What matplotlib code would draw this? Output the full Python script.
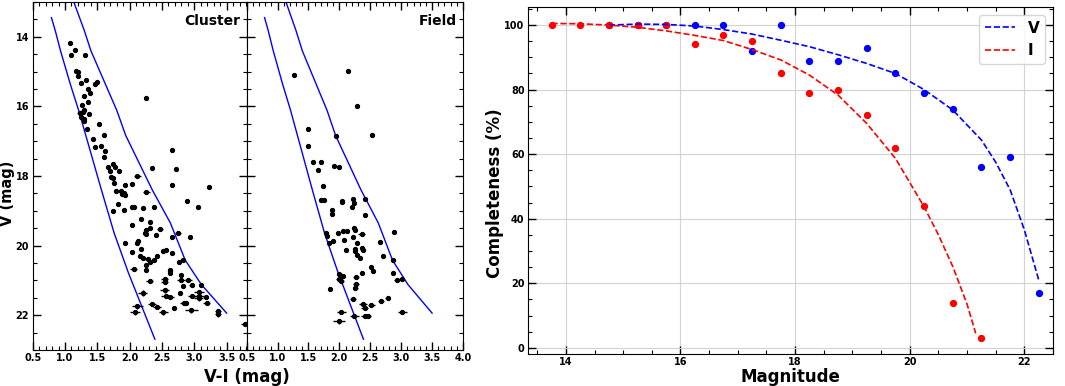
import numpy as np
import matplotlib
matplotlib.use("Agg")
import matplotlib.pyplot as plt
from matplotlib.ticker import MultipleLocator

plt.rcParams['font.family'] = ['DejaVu Sans']
plt.rcParams['font.weight'] = 'bold'

# ---------------- CMD data ----------------
cluster_vi = [1.08, 1.15, 1.09, 1.31, 1.17, 1.20, 1.20, 1.25, 1.32, 1.47, 1.50, 1.36, 1.39, 1.30,
              1.36, 1.27, 1.29, 1.28, 1.23, 1.25, 1.30, 1.30, 1.37, 1.34, 1.52, 1.61, 1.44, 1.46,
              1.56, 1.62, 1.61, 2.25, 2.65, 2.34, 2.71, 1.66, 1.75, 1.77, 1.70, 1.83, 1.71, 1.75,
              1.76, 2.12, 1.93, 2.03, 2.65, 3.22,
              1.79, 1.86, 1.91, 1.88, 1.93, 2.26, 1.82, 2.03, 2.07, 2.21, 2.37, 2.89, 3.05, 1.75,
              1.91, 2.17, 2.31, 2.04, 2.31, 2.25, 2.24, 2.26, 2.40, 2.47, 2.75, 2.65, 2.94, 1.93,
              2.13, 2.12, 2.17, 2.03, 2.16, 2.21, 2.28, 2.32, 2.25, 2.37, 2.43, 2.52, 2.56, 2.65,
              2.82, 2.77, 2.06, 2.26, 2.63, 2.62, 2.62, 2.79, 2.31, 2.54, 2.54, 2.80, 2.91, 2.83,
              2.96, 3.11, 2.20, 2.54, 2.56, 2.62, 2.78, 2.97, 3.07, 3.08, 3.07, 3.18, 3.19, 2.84,
              2.87, 2.34, 2.42, 2.68, 2.12, 2.08, 2.52, 2.95, 3.37, 3.37, 3.79]
cluster_v = [14.18, 14.37, 14.53, 14.52, 14.97, 15.01, 15.12, 15.33, 15.25, 15.35, 15.31, 15.50, 15.62, 15.70,
             15.87, 15.97, 16.11, 16.16, 16.19, 16.31, 16.35, 16.42, 16.23, 16.66, 16.50, 16.83, 16.94, 17.16,
             17.13, 17.28, 17.45, 15.77, 17.26, 17.76, 17.80, 17.75, 17.66, 17.73, 17.85, 17.86, 18.02, 18.07,
             18.21, 18.00, 18.26, 18.24, 18.27, 18.33,
             18.42, 18.43, 18.48, 18.51, 18.54, 18.47, 18.80, 18.88, 18.89, 18.92, 18.88, 18.71, 18.90, 19.02,
             18.97, 19.23, 19.32, 19.42, 19.49, 19.56, 19.64, 19.67, 19.71, 19.52, 19.64, 19.75, 19.76, 19.94,
             19.88, 19.92, 20.09, 20.19, 20.29, 20.37, 20.38, 20.46, 20.57, 20.40, 20.29, 20.15, 20.14, 20.21,
             20.42, 20.46, 20.67, 20.71, 20.69, 20.74, 20.80, 20.85, 21.02, 20.97, 21.06, 21.00, 20.99, 21.17,
             21.14, 21.12, 21.37, 21.29, 21.45, 21.47, 21.37, 21.45, 21.33, 21.45, 21.52, 21.47, 21.66, 21.66,
             21.64, 21.69, 21.76, 21.78, 21.75, 21.92, 21.92, 21.86, 21.87, 21.98, 22.26]
cluster_evi = [0.01] * 18 + [0.04] + [0.01] * 24 + [0.06] + [0.01] * 4 + \
              [0.01] * 5 + [0.05] + [0.01] * 17 + [0.05, 0.05] + [0.01] * 5 + \
              [0.03, 0.01, 0.01, 0.01, 0.04, 0.01, 0.01, 0.01, 0.01, 0.04, 0.01, 0.01,
               0.04, 0.01, 0.05, 0.01, 0.01, 0.01, 0.01, 0.01, 0.05, 0.06, 0.06, 0.06, 0.05, 0.02,
               0.04, 0.02, 0.07, 0.07, 0.08, 0.06, 0.02, 0.06, 0.08, 0.07, 0.07, 0.03, 0.05, 0.06,
               0.03, 0.06, 0.06, 0.03, 0.08, 0.08, 0.07, 0.10, 0.05, 0.05, 0.06]
cluster_ev = [0.01] * 92 + [0.03, 0.02, 0.02, 0.02, 0.02, 0.02, 0.04, 0.05, 0.05, 0.04, 0.04, 0.03,
              0.04, 0.04, 0.08, 0.06, 0.06, 0.05, 0.04, 0.05, 0.06, 0.06, 0.06, 0.05, 0.06, 0.06,
              0.05, 0.06, 0.06, 0.05, 0.07, 0.07, 0.07, 0.07, 0.06, 0.06, 0.06]

field_vi = [1.26, 2.14, 2.29, 1.49, 1.94, 2.53, 1.50, 1.57, 1.71, 1.66, 1.91, 2.00, 1.74, 1.70, 1.75,
            2.05, 2.05, 2.22, 2.24, 2.21, 2.42, 2.42, 1.88, 1.88, 1.79, 1.80, 1.84, 1.89, 1.98, 2.06,
            2.13, 2.24, 2.25, 2.08, 2.22, 2.36, 2.29, 2.26, 2.25, 2.11, 2.36, 2.38, 2.29, 2.33, 2.65,
            2.88, 2.71, 2.86, 2.51, 2.55, 2.37, 2.00, 2.05, 2.06, 1.99, 2.03, 2.87, 2.93, 3.01, 2.27,
            2.27, 2.26, 1.85, 2.22, 2.38, 2.41, 2.52, 2.67, 2.78, 2.03, 2.24, 2.41, 2.46, 3.02, 1.99]
field_v = [15.11, 14.98, 16.00, 16.64, 16.84, 16.82, 17.15, 17.59, 17.59, 17.83, 17.70, 17.74, 18.30, 18.69, 18.69,
           18.73, 18.76, 18.67, 18.78, 18.90, 18.66, 19.11, 18.97, 19.10, 19.64, 19.73, 19.92, 19.88, 19.64, 19.57,
           19.58, 19.50, 19.54, 19.83, 19.76, 19.67, 19.93, 20.11, 20.16, 20.14, 20.08, 20.13, 20.27, 20.35, 19.90,
           19.62, 20.29, 20.42, 20.62, 20.73, 20.78, 20.81, 20.86, 20.88, 20.97, 21.02, 20.78, 20.99, 20.95, 20.90,
           21.09, 21.22, 21.24, 21.54, 21.69, 21.78, 21.70, 21.59, 21.52, 21.92, 22.02, 22.02, 22.02, 21.92, 22.18]
field_evi = [0.01] * 35 + [0.06] + [0.01] * 16 + [0.03, 0.01, 0.04, 0.05, 0.01, 0.05, 0.04, 0.05,
             0.05, 0.04, 0.01, 0.05, 0.07, 0.06, 0.06, 0.05, 0.04, 0.07, 0.07, 0.06, 0.06, 0.07, 0.10]
field_ev = [0.01] * 51 + [0.02, 0.03, 0.02, 0.04, 0.04, 0.02, 0.04, 0.04, 0.04, 0.04, 0.04, 0.03,
            0.05, 0.05, 0.05, 0.05, 0.05, 0.05, 0.06, 0.06, 0.06, 0.06, 0.06, 0.07]

# envelope lines (V-I, V)
env_left_vi = [0.79, 0.85, 0.93, 1.08, 1.21, 1.56, 1.76, 1.98, 2.39]
env_left_v = [13.45, 13.83, 14.40, 15.35, 16.11, 18.38, 19.64, 20.78, 22.69]
env_right_vi = [1.13, 1.30, 1.40, 1.80, 1.94, 2.35, 2.63, 2.86, 3.11, 3.50]
env_right_v = [12.97, 13.83, 14.40, 16.11, 16.84, 18.40, 19.35, 20.42, 21.12, 21.94]

# ---------------- completeness data ----------------
mag_v = [14.75, 15.25, 15.75, 16.25, 16.75, 17.25, 17.75, 18.25, 18.75, 19.25, 19.75, 20.25, 20.75, 21.25, 21.75, 22.25]
comp_v = [100, 100, 100, 100, 100, 92, 100, 89, 89, 93, 85, 79, 74, 56, 59, 17]
mag_i = [13.75, 14.25, 14.75, 15.25, 15.75, 16.25, 16.75, 17.25, 17.75, 18.25, 18.75, 19.25, 19.75, 20.25, 20.75, 21.25]
comp_i = [100, 100, 100, 100, 100, 94, 97, 95, 85, 79, 80, 72, 62, 44, 14, 3]

fit_v_mag = [14.75, 15.25, 15.75, 16.25, 16.75, 17.25, 17.75, 18.25, 18.75, 19.25, 19.75, 20.25, 20.75, 21.25, 21.5, 21.75, 22.0, 22.25]
fit_v_comp = [100.0, 100.3, 100.2, 99.7, 98.6, 97.2, 95.3, 93.3, 90.8, 88.1, 85.0, 80.0, 73.7, 64.4, 57.5, 49.0, 36.5, 21.0]
fit_i_mag = [13.75, 14.25, 14.75, 15.25, 15.75, 16.25, 16.75, 17.25, 17.75, 18.25, 18.75, 19.25, 19.75, 20.25, 20.5, 20.75, 21.0, 21.15]
fit_i_comp = [100.5, 100.4, 100.0, 99.3, 98.2, 96.8, 95.2, 92.4, 89.2, 84.5, 78.3, 69.5, 58.7, 43.7, 35.0, 25.2, 13.5, 4.5]

fig = plt.figure(figsize=(10.65, 3.86), dpi=100)
ax1 = fig.add_axes([0.0307, 0.0933, 0.2009, 0.9016])
ax2 = fig.add_axes([0.2316, 0.0933, 0.2031, 0.9016])
ax3 = fig.add_axes([0.4958, 0.0829, 0.4930, 0.8990])

TICK_FS = 7


def style_cmd(ax, xmax, name, show_y):
    ax.set_xlim(0.5, xmax)
    ax.set_ylim(23, 13)
    ax.xaxis.set_major_locator(MultipleLocator(0.5))
    ax.xaxis.set_minor_locator(MultipleLocator(0.1))
    ax.yaxis.set_major_locator(MultipleLocator(2))
    ax.yaxis.set_minor_locator(MultipleLocator(0.5))
    ax.tick_params(which='both', direction='in', top=True, right=True, labelsize=TICK_FS)
    ax.tick_params(which='major', length=6, width=1, pad=2.5)
    ax.tick_params(which='minor', length=3, width=0.8)
    if not show_y:
        ax.set_yticklabels([])
    for lab in ax.get_xticklabels() + ax.get_yticklabels():
        lab.set_fontweight('bold')
    ax.text(0.97, 0.965, name, transform=ax.transAxes, ha='right', va='top',
            fontsize=10, fontweight='bold')


for ax, vi, v, evi, ev, xmax, name, sy in [
        (ax1, cluster_vi, cluster_v, cluster_evi, cluster_ev, 3.81, 'Cluster', True),
        (ax2, field_vi, field_v, field_evi, field_ev, 4.0, 'Field', False)]:
    ax.plot(env_left_vi, env_left_v, color='blue', lw=1)
    ax.plot(env_right_vi, env_right_v, color='blue', lw=1)
    ax.errorbar(vi, v, xerr=evi, yerr=ev, fmt='o', color='black', ms=2.8,
                elinewidth=1, capsize=0)
    style_cmd(ax, xmax, name, sy)

fig.text(0.0075, 0.5, 'V (mag)', rotation=90, ha='center', va='center',
         fontsize=10.5, fontweight='bold')
fig.text(0.2316, 0.024, 'V-I (mag)', ha='center', va='center', fontsize=12, fontweight='bold')

# completeness panel
ax3.grid(True, color='lightgray', lw=0.8)
ax3.set_axisbelow(True)
ax3.scatter(mag_v, comp_v, color='blue', s=18, zorder=3)
ax3.scatter(mag_i, comp_i, color='red', s=18, zorder=3)
ax3.plot(fit_v_mag, fit_v_comp, '--', color='blue', lw=1.2, label='V', zorder=4)
ax3.plot(fit_i_mag, fit_i_comp, '--', color='red', lw=1.2, label='I', zorder=4)
ax3.set_xlim(13.34, 22.5)
ax3.set_ylim(-1.9, 105.6)
ax3.xaxis.set_major_locator(MultipleLocator(2))
ax3.xaxis.set_minor_locator(MultipleLocator(0.5))
ax3.yaxis.set_major_locator(MultipleLocator(20))
ax3.yaxis.set_minor_locator(MultipleLocator(5))
ax3.tick_params(which='both', direction='in', top=True, right=True, labelsize=TICK_FS)
ax3.tick_params(which='major', length=6, width=1, pad=2.5)
ax3.tick_params(which='minor', length=3, width=0.8)
for lab in ax3.get_xticklabels() + ax3.get_yticklabels():
    lab.set_fontweight('bold')
fig.text(0.742, 0.024, 'Magnitude', ha='center', va='center', fontsize=12, fontweight='bold')
fig.text(0.465, 0.5, 'Completeness (%)', rotation=90, ha='center', va='center',
         fontsize=12, fontweight='bold')
leg = ax3.legend(loc='upper right', prop={'weight': 'bold', 'size': 11})

plt.savefig('out.png', dpi=100)
